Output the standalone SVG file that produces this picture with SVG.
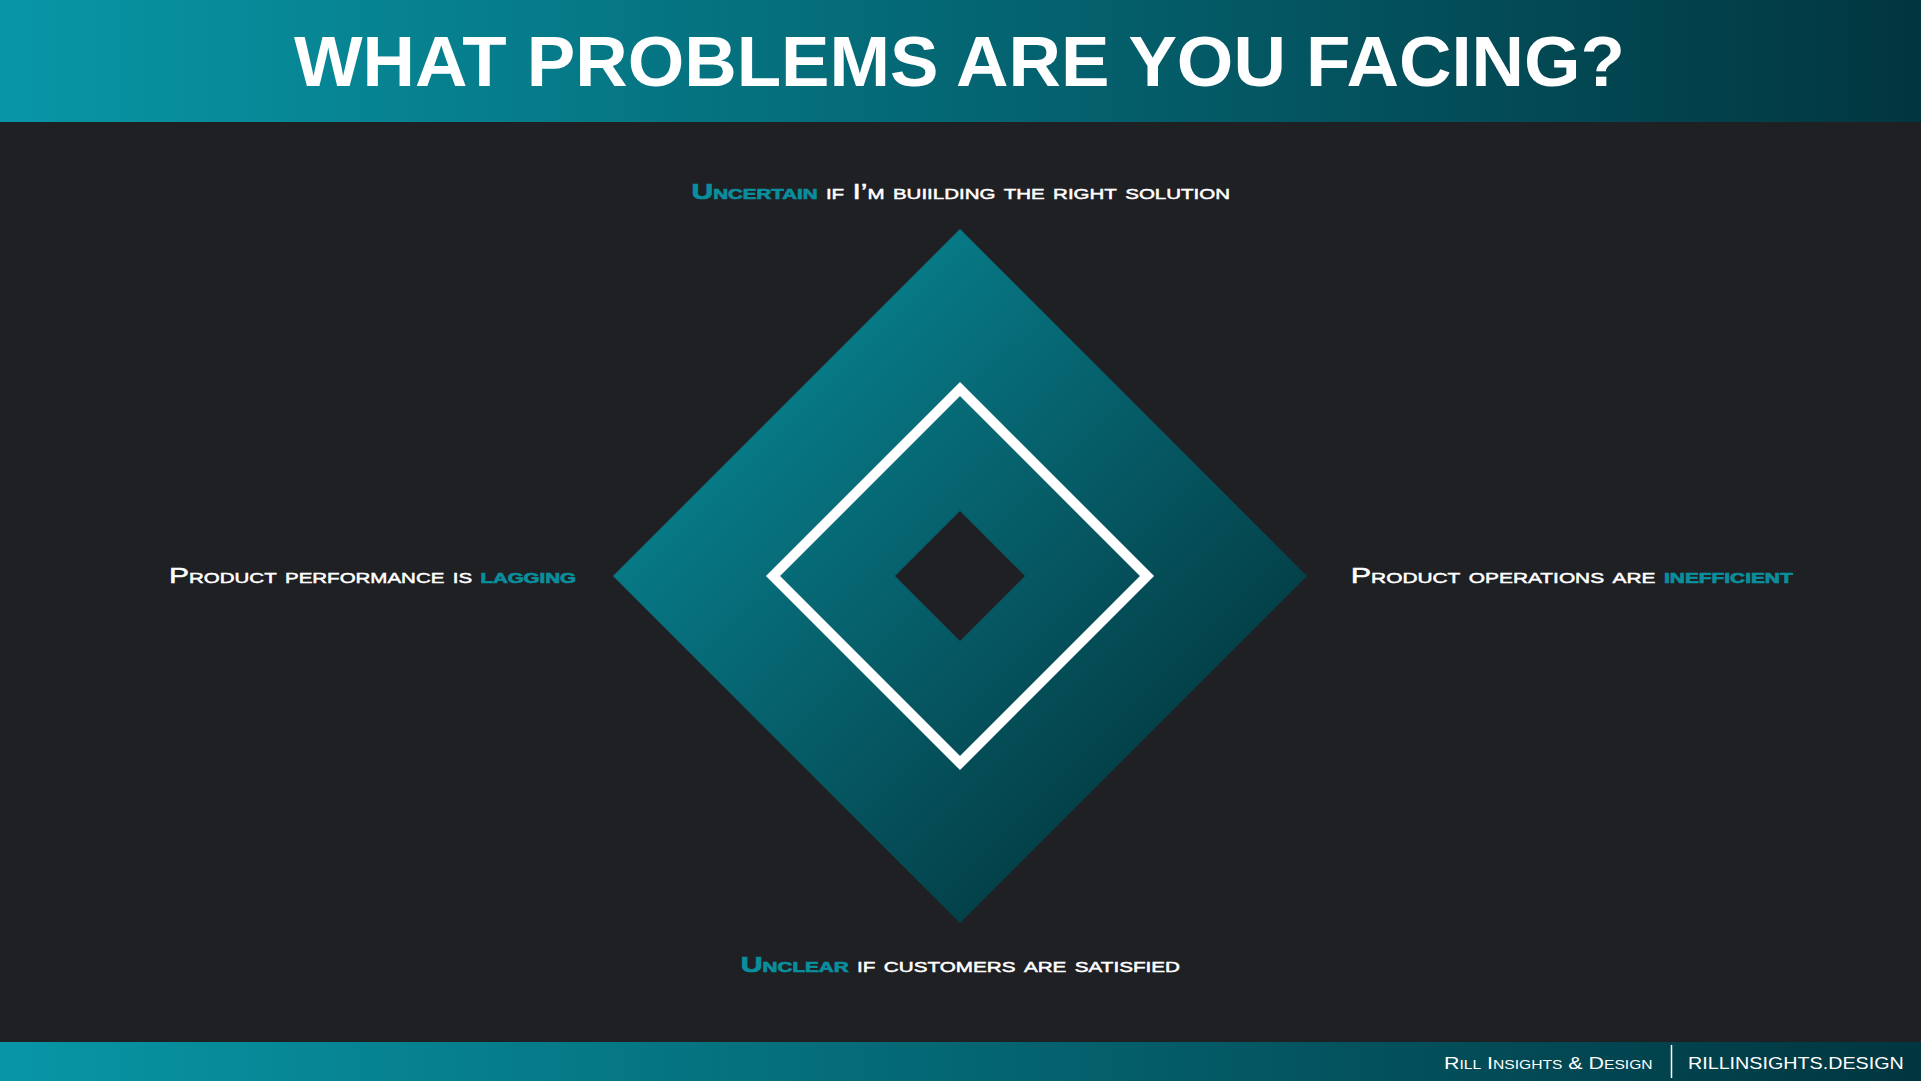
<svg xmlns="http://www.w3.org/2000/svg" width="1921" height="1081" viewBox="0 0 1921 1081">
<defs>
<linearGradient id="bar" x1="0" y1="0" x2="1" y2="0">
<stop offset="0" stop-color="#0896a6"/>
<stop offset="1" stop-color="#013640"/>
</linearGradient>
<linearGradient id="dia" x1="0" y1="0" x2="1" y2="1">
<stop offset="0" stop-color="#0994a3"/>
<stop offset="1" stop-color="#02262d"/>
</linearGradient>
<style>
.lbl{font-family:"Liberation Sans",Arial,sans-serif;font-size:22px;font-variant:small-caps;fill:#ffffff;stroke:#ffffff;stroke-width:0.5px}
.hl{fill:#0a8e9d;stroke:#0a8e9d;font-weight:bold;stroke-width:0.7px}
.ft{font-family:"Liberation Sans",Arial,sans-serif;font-size:16.5px;fill:#ffffff}
</style>
</defs>
<rect x="0" y="0" width="1921" height="1081" fill="#1f2024"/>
<g id="header">
<rect x="0" y="0" width="1921" height="122" fill="url(#bar)"/>
<text x="294" y="86" textLength="1331" lengthAdjust="spacingAndGlyphs" font-family="Liberation Sans, Arial, sans-serif" font-weight="bold" font-size="70" fill="#ffffff">WHAT PROBLEMS ARE YOU FACING?</text>
</g>
<g id="diamond">
<polygon points="960,229 1307,576 960,923 613,576" fill="url(#dia)"/>
<polygon points="960,389 1147,576 960,763 773,576" fill="none" stroke="#ffffff" stroke-width="10" stroke-linejoin="miter"/>
<polygon points="960,511 1025,576 960,641 895,576" fill="#1f2024"/>
</g>
<g id="label-top">
<text class="lbl" x="691.5" y="199.3" textLength="538.5" lengthAdjust="spacingAndGlyphs"><tspan class="hl">Uncertain</tspan> if I’m buiilding the right solution</text>
</g>
<g id="label-left">
<text class="lbl" x="169" y="583.3" textLength="407" lengthAdjust="spacingAndGlyphs">Product performance is <tspan class="hl">lagging</tspan></text>
</g>
<g id="label-right">
<text class="lbl" x="1350.7" y="582.5" textLength="442" lengthAdjust="spacingAndGlyphs">Product operations are <tspan class="hl">inefficient</tspan></text>
</g>
<g id="label-bottom">
<text class="lbl" x="740.7" y="972.3" textLength="439.3" lengthAdjust="spacingAndGlyphs"><tspan class="hl">Unclear</tspan> if customers are satisfied</text>
</g>
<g id="footer">
<rect x="0" y="1042" width="1921" height="39" fill="url(#bar)"/>
<text class="ft" x="1444" y="1069" textLength="208.6" lengthAdjust="spacingAndGlyphs" style="font-variant:small-caps">Rill Insights &amp; Design</text>
<line x1="1671.5" y1="1045" x2="1671.5" y2="1078" stroke="#ffffff" stroke-width="1.5"/>
<text class="ft" x="1688" y="1069" textLength="215.7" lengthAdjust="spacingAndGlyphs">RILLINSIGHTS.DESIGN</text>
</g>
</svg>
